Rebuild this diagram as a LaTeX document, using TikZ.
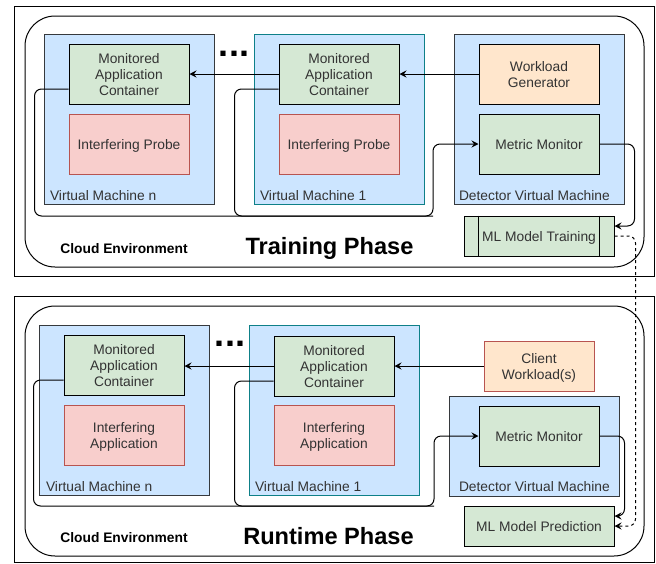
\documentclass[tikz,border=0pt]{standalone}
\usepackage{fontspec}
\setmainfont{Liberation Sans}
\usetikzlibrary{arrows.meta}
\definecolor{vmfill}{HTML}{CCE5FF}
\definecolor{vmline}{HTML}{36393D}
\definecolor{vmteal}{HTML}{0E8088}
\definecolor{appfill}{HTML}{D5E8D4}
\definecolor{probefill}{HTML}{F8CECC}
\definecolor{probeline}{HTML}{B85450}
\definecolor{loadfill}{HTML}{FFE6CC}
\definecolor{boxtxt}{HTML}{333333}
\newcommand{\boxfont}{\fontsize{13.8}{16}\selectfont}
\tikzset{
  vm/.style={draw=vmline, fill=vmfill, minimum width=170pt, minimum height=170pt, inner sep=0pt},
  app/.style={draw=black, fill=appfill, minimum width=120pt, minimum height=60pt, inner sep=0pt,
    text depth=-3pt, align=center, text=boxtxt, font=\boxfont},
  probe/.style={app, draw=probeline, fill=probefill},
  load/.style={app, fill=loadfill},
  mlbox/.style={app, minimum width=150pt, minimum height=40pt},
  vmlabel/.style={anchor=base west, inner sep=0pt, text=boxtxt, font=\boxfont},
  cloudlabel/.style={anchor=base, inner sep=0pt, font=\boxfont\bfseries},
  phase/.style={anchor=base, inner sep=0pt, font=\fontsize{23.6}{24}\selectfont\bfseries},
  dots/.style={anchor=base, inner sep=0pt, font=\fontsize{36}{36}\selectfont\bfseries},
  wire/.style={rounded corners=7pt},
  arr/.style={wire, -{Stealth[length=7pt,width=7pt,inset=2.5pt]}},
  dashlink/.style={arr, dash pattern=on 3pt off 3pt}
}
\begin{document}
\begin{tikzpicture}[x=1pt, y=-1pt, line width=1pt]
  \useasboundingbox (0,0) rectangle (656,563);

  \draw (14,6) rectangle (654,276);
  \draw[rounded corners=30pt] (25,16) rectangle (644,267);
  \draw (14,296) rectangle (654,562);
  \draw[rounded corners=30pt] (25,306) rectangle (644,556);

  \node[vm] (vmnT) at (129,119) {};
  \node[vm, draw=vmteal] (vm1T) at (339,119) {};
  \node[vm] (detT) at (539,119) {};
  \node[vmlabel] (vmnlabT) at ([xshift=6pt,yshift=4pt]vmnT.south west) {Virtual Machine n};
  \node[vmlabel] (vm1labT) at ([xshift=6pt,yshift=4pt]vm1T.south west) {Virtual Machine 1};
  \node[vmlabel] (detlabT) at ([xshift=5pt,yshift=4pt]detT.south west) {Detector Virtual Machine};
  \node[app] (macnT) at (129,74) {Monitored\\Application\\Container};
  \node[probe] (probenT) at (129,144) {Interfering Probe};
  \node[app] (mac1T) at (339,74) {Monitored\\Application\\Container};
  \node[probe] (probe1T) at (339,144) {Interfering Probe};
  \node[load] (wlgenT) at (539,74) {Workload\\Generator};
  \node[app] (monT) at (539,144) {Metric Monitor};
  \node[mlbox] (mlT) at (539,236) {ML Model Training};
  \draw ([xshift=15pt]mlT.north west) -- ([xshift=15pt]mlT.south west);
  \draw ([xshift=-15pt]mlT.north east) -- ([xshift=-15pt]mlT.south east);
  \node[dots] (dotsT) at (234,56.5) {...};
  \node[cloudlabel] (cloudT) at (124,253) {Cloud Environment};
  \node[phase] (phaseT) at (329.5,254) {Training Phase};

  \node[vm] (vmnR) at (124,410) {};
  \node[vm, draw=vmteal] (vm1R) at (334,410) {};
  \node[vm, minimum height=100pt] (detR) at (534,446) {};
  \node[vmlabel] (vmnlabR) at ([xshift=7pt,yshift=4pt]vmnR.south west) {Virtual Machine n};
  \node[vmlabel] (vm1labR) at ([xshift=6pt,yshift=4pt]vm1R.south west) {Virtual Machine 1};
  \node[vmlabel] (detlabR) at ([xshift=10pt,yshift=5pt]detR.south west) {Detector Virtual Machine};
  \node[app] (macnR) at (124,365) {Monitored\\Application\\Container};
  \node[probe] (intnR) at (124,435) {Interfering\\Application};
  \node[app] (mac1R) at (334,366) {Monitored\\Application\\Container};
  \node[probe] (int1R) at (334,435) {Interfering\\Application};
  \node[load, draw=probeline, minimum width=110pt, minimum height=50pt] (clientR) at (539,366) {Client\\Workload(s)};
  \node[app] (monR) at (539,436) {Metric Monitor};
  \node[mlbox] (mlR) at (539,526) {ML Model Prediction};
  \node[dots] (dotsR) at (230,346.5) {...};
  \node[cloudlabel] (cloudR) at (124,542) {Cloud Environment};
  \node[phase] (phaseR) at (328.5,544) {Runtime Phase};

  \coordinate (busT) at (433,216);
  \draw[arr] (wlgenT.west) -- (mac1T.east);
  \draw[arr] (mac1T.west) -- (macnT.east);
  \draw[arr] ([yshift=-15pt]macnT.west) -- ++(-34,0) |- (busT) |- (monT.west);
  \draw[wire] ([yshift=-15pt]mac1T.west) -- ++(-44,0) |- (busT);
  \draw[arr] (monT.east) -| ([xshift=20pt,yshift=10pt]mlT.east) -- ([yshift=10pt]mlT.east);

  \coordinate (busR) at (434,506);
  \draw[arr] (clientR.west) -- (clientR.west -| mac1R.east);
  \draw[arr] (mac1R.west) -- (mac1R.west -| macnR.east);
  \draw[arr] ([yshift=-15pt]macnR.west) -- ++(-30,0) |- (busR) |- (monR.west);
  \draw[wire] ([yshift=-15pt]mac1R.west) -- ++(-39,0) |- (busR);
  \draw[arr] (monR.east) -| ([xshift=10pt,yshift=10pt]mlR.east) -- ([yshift=10pt]mlR.east);

  \draw[dashlink] (mlT.east) -- ++(21,0) |- (mlR.east);
\end{tikzpicture}
\end{document}
